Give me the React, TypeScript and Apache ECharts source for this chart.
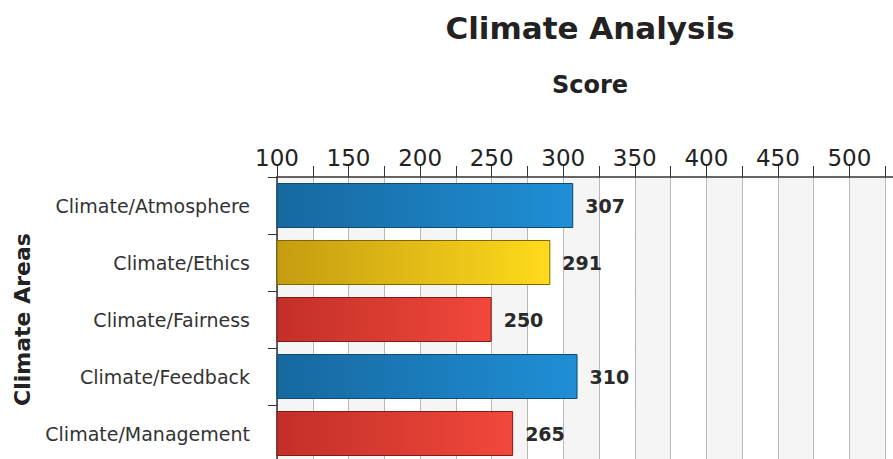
import React, { useEffect, useRef } from "react";
import * as echarts from "echarts";

const categories = [
  "Climate/Atmosphere",
  "Climate/Ethics",
  "Climate/Fairness",
  "Climate/Feedback",
  "Climate/Management",
];
const scores = [307, 291, 250, 310, 265];
const tickLabels = [100, 150, 200, 250, 300, 350, 400, 450, 500];
const titleText = "Climate Analysis";
const xAxisName = "Score";
const yAxisName = "Climate Areas";

function barStyle(v: number) {
  let stops: [string, string];
  let border: string;
  if (v >= 300) {
    stops = ["#17689f", "#1f8fd6"];
    border = "#0d4a74";
  } else if (v >= 280) {
    stops = ["#c49c10", "#ffda1c"];
    border = "#7d6500";
  } else {
    stops = ["#c22f28", "#f2483b"];
    border = "#7e1c17";
  }
  return {
    color: new echarts.graphic.LinearGradient(0, 0, 1, 0, [
      { offset: 0, color: stops[0] },
      { offset: 1, color: stops[1] },
    ]),
    borderColor: border,
    borderWidth: 1,
  };
}

export default function App() {
  const ref = useRef<HTMLDivElement>(null);
  useEffect(() => {
    document.body.style.margin = "0";
    const chart = echarts.init(ref.current!, null, { renderer: "svg" });
    chart.setOption({
      animation: false,
      backgroundColor: "#ffffff",
      title: {
        text: titleText,
        left: 590,
        top: 12,
        padding: 0,
        textAlign: "center",
        textStyle: {
          fontFamily: "DejaVu Sans",
          fontWeight: "bold",
          fontSize: 31,
          color: "#222",
        },
      },
      grid: {
        left: 277,
        top: 177,
        width: 644,
        height: 285,
        containLabel: false,
        outerBoundsMode: "none",
      },
      xAxis: {
        type: "value",
        position: "top",
        min: 100,
        max: 550,
        interval: 25,
        name: xAxisName,
        nameLocation: "middle",
        nameGap: 80,
        nameTextStyle: {
          fontFamily: "DejaVu Sans",
          fontWeight: "bold",
          fontSize: 24,
          color: "#222",
          padding: [0, 18, 0, 0],
        },
        axisLine: { show: true, lineStyle: { color: "#333", width: 1.5 } },
        axisTick: { show: true, length: 11, lineStyle: { color: "#333" } },
        axisLabel: {
          margin: 8,
          fontFamily: "DejaVu Sans",
          fontSize: 23,
          color: "#222",
          formatter: (v: number) => (tickLabels.indexOf(v) >= 0 ? String(v) : ""),
        },
        splitLine: { show: true, lineStyle: { color: "#b8b8b8", width: 1 } },
        splitArea: { show: true, areaStyle: { color: ["#f5f5f5", "#ffffff"] } },
      },
      yAxis: {
        type: "category",
        inverse: true,
        data: categories,
        name: yAxisName,
        nameLocation: "middle",
        nameGap: 244,
        nameRotate: 90,
        nameTextStyle: {
          fontFamily: "DejaVu Sans",
          fontWeight: "bold",
          fontSize: 22,
          color: "#222",
        },
        axisLine: { show: true, lineStyle: { color: "#333", width: 1.5 } },
        axisTick: { show: true, length: 9, lineStyle: { color: "#333" } },
        axisLabel: {
          margin: 27,
          fontFamily: "DejaVu Sans",
          fontSize: 19,
          color: "#333",
        },
        splitLine: { show: true, lineStyle: { color: "#c8c8c8", width: 1 } },
      },
      series: [
        {
          type: "bar",
          barWidth: 45,
          data: scores.map((v) => ({ value: v, itemStyle: barStyle(v) })),
          label: {
            show: true,
            position: "right",
            distance: 12,
            fontFamily: "DejaVu Sans",
            fontWeight: "bold",
            fontSize: 19,
            color: "#2a2a2a",
          },
        },
      ],
    });
    return () => chart.dispose();
  }, []);
  return <div ref={ref} style={{ width: 893, height: 459 }} />;
}
